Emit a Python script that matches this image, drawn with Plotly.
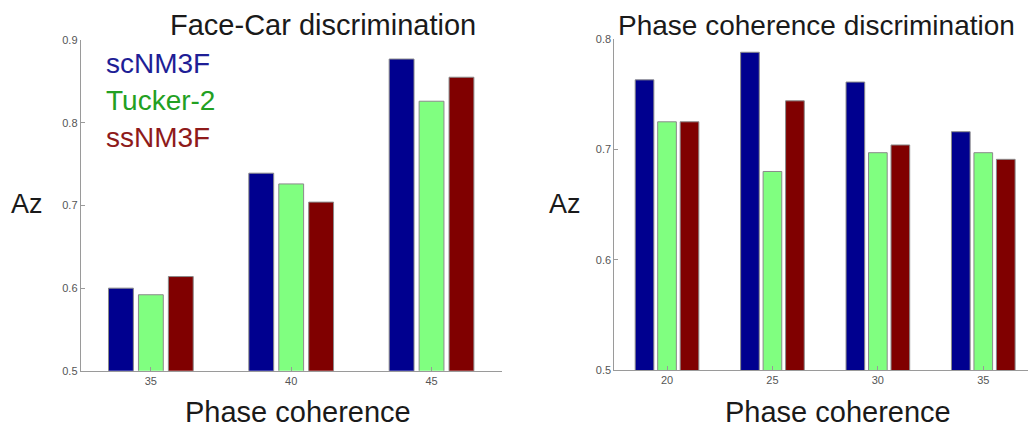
import plotly.graph_objects as go

# ---- data ----
series_names = ["scNM3F", "Tucker-2", "ssNM3F"]
bar_colors = ["#00008F", "#80FF80", "#800000"]
legend_colors = ["#1E1E96", "#22A022", "#8E1A1A"]

left_categories = ["35", "40", "45"]
left_values = {
    "scNM3F": [0.600, 0.739, 0.877],
    "Tucker-2": [0.592, 0.726, 0.826],
    "ssNM3F": [0.614, 0.704, 0.855],
}
left_yticks = [0.5, 0.6, 0.7, 0.8, 0.9]

right_categories = ["20", "25", "30", "35"]
right_values = {
    "scNM3F": [0.763, 0.788, 0.761, 0.716],
    "Tucker-2": [0.725, 0.680, 0.697, 0.697],
    "ssNM3F": [0.725, 0.744, 0.704, 0.691],
}
right_yticks = [0.5, 0.6, 0.7, 0.8]

FONT = "Liberation Sans, Arial, sans-serif"

# page offset compensation
OFF_X = 8
W, H = 1028, 420


def px(x):
    return (x - OFF_X) / W


def py(y):
    fy = (y - 14) / 0.971
    return 1 - fy / H


fig = go.Figure()
for name, col in zip(series_names, bar_colors):
    fig.add_trace(go.Bar(x=left_categories, y=left_values[name], name=name,
                         marker=dict(color=col, line=dict(color="#8a8a8a", width=1)),
                         xaxis="x", yaxis="y", showlegend=False, offsetgroup=name))
for name, col in zip(series_names, bar_colors):
    fig.add_trace(go.Bar(x=right_categories, y=right_values[name], name=name,
                         marker=dict(color=col, line=dict(color="#8a8a8a", width=1)),
                         xaxis="x2", yaxis="y2", showlegend=False, offsetgroup=name))

axis_common = dict(showline=True, linecolor="#9a9a9a", linewidth=1, ticks="inside",
                   ticklen=4, tickcolor="#9a9a9a", showgrid=False, zeroline=False,
                   tickfont=dict(family=FONT, size=11, color="#555555"))

fig.update_layout(
    width=W, height=H,
    margin=dict(l=0, r=0, t=0, b=0),
    paper_bgcolor="white", plot_bgcolor="white",
    barmode="group", bargap=0.36, bargroupgap=0.17,
    xaxis=dict(domain=[px(80.7), px(501.7)], anchor="y", type="category",
               range=[-0.5, 2.5], **axis_common),
    yaxis=dict(domain=[py(370.7), py(40)], anchor="x", range=[0.5, 0.9],
               tickvals=left_yticks, ticktext=[f"{v:.1f}" for v in left_yticks],
               **axis_common),
    xaxis2=dict(domain=[px(614.3), px(1036)], anchor="y2", type="category",
                range=[-0.5, 3.5], **axis_common),
    yaxis2=dict(domain=[py(370), py(39)], anchor="x2", range=[0.5, 0.8],
                tickvals=right_yticks, ticktext=[f"{v:.1f}" for v in right_yticks],
                **axis_common),
)

big = dict(family=FONT, size=29, color="#1a1a1a")
annotations = [
    dict(text="Face-Car discrimination", x=322.5, y=25),
    dict(text="Phase coherence discrimination", x=816, y=25, size=28),
    dict(text="Az", x=26.5, y=204, size=27),
    dict(text="Az", x=565, y=204, size=27),
    dict(text="Phase coherence", x=297.5, y=412),
    dict(text="Phase coherence", x=838, y=412),
]
for a in annotations:
    f = dict(big)
    if "size" in a:
        f["size"] = a["size"]
    fig.add_annotation(text=a["text"], x=px(a["x"]), y=py(a["y"]), xref="paper", yref="paper",
                       xanchor="center", yanchor="middle", showarrow=False, font=f)

legend_y = [63.5, 100, 137]
for name, col, yy in zip(series_names, legend_colors, legend_y):
    fig.add_annotation(text=name, x=px(104), y=py(yy), xref="paper", yref="paper",
                       xanchor="left", yanchor="middle", showarrow=False,
                       font=dict(family=FONT, size=28, color=col))

fig.write_html("out.html")
